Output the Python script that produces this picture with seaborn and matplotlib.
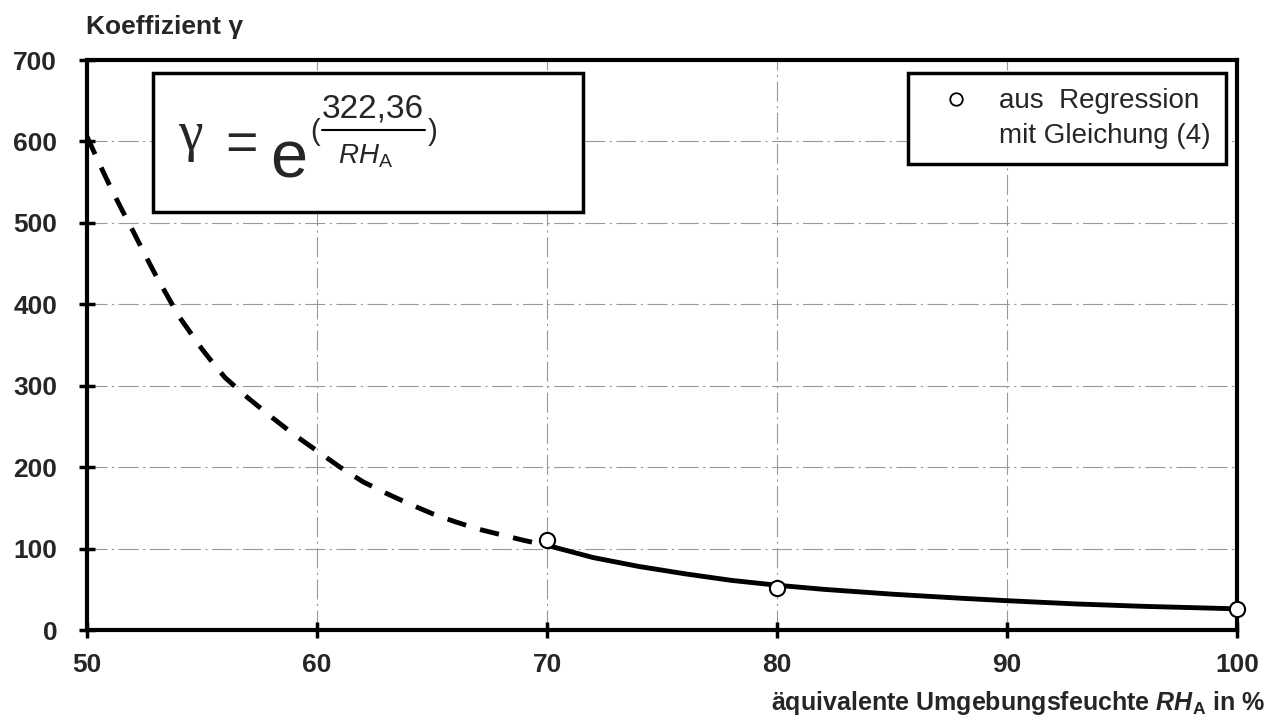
import matplotlib.pyplot as plt
import seaborn as sns
from matplotlib.lines import Line2D
from matplotlib.patches import Rectangle

# values
rh_dashed = [50, 50.5, 51, 51.5, 52, 52.5, 53, 53.5, 54, 54.5, 55, 55.5, 56, 57, 58,
             59, 60, 61, 62, 63, 64, 65, 66, 67, 68, 69, 70]
gamma_dashed = [606, 575, 545, 517, 490, 462, 435, 410, 385, 365, 345, 327, 310, 285,
                262, 240, 220, 200, 182, 168, 155, 143, 133, 124, 117, 110, 104]
rh_solid = [70, 72, 74, 76, 78, 80, 82, 85, 88, 90, 93, 96, 100]
gamma_solid = [104, 89, 78, 69, 61, 55, 50, 44, 39, 36, 32, 29, 26]
rh_points = [70, 80, 100]
gamma_points = [111, 52, 26]
x_ticks = [50, 60, 70, 80, 90, 100]
y_ticks = [0, 100, 200, 300, 400, 500, 600, 700]

sns.set_style("white")
plt.rcParams["font.family"] = ["Liberation Sans", "DejaVu Sans"]
plt.rcParams["mathtext.fontset"] = "custom"
plt.rcParams["mathtext.rm"] = "Liberation Sans"
plt.rcParams["mathtext.it"] = "Liberation Sans:italic"
plt.rcParams["mathtext.bf"] = "Liberation Sans:bold"
plt.rcParams["mathtext.bfit"] = "Liberation Sans:italic:bold"

W, H = 1273, 727
fig = plt.figure(figsize=(W / 100, H / 100), dpi=100)
ax = fig.add_axes([87 / W, 1 - 630 / H, 1150 / W, 570 / H])


def fx(px):
    return px / W


def fy(py):
    return 1 - py / H


sns.lineplot(x=rh_dashed, y=gamma_dashed, ax=ax, color="black", lw=3.5)
ax.lines[-1].set_dashes([4, 3])
sns.lineplot(x=rh_solid, y=gamma_solid, ax=ax, color="black", lw=3.5)
sns.scatterplot(x=rh_points, y=gamma_points, ax=ax, s=120, facecolor="white",
                edgecolor="black", linewidth=1.5, zorder=5, clip_on=False)

ax.set_xlim(50, 100)
ax.set_ylim(0, 700)
ax.set_xticks(x_ticks)
ax.set_yticks(y_ticks)
ax.grid(True, color="#999999", lw=0.8, linestyle=(0, (18, 4, 2, 4)))
ax.set_axisbelow(True)
for s in ax.spines.values():
    s.set_visible(True)
    s.set_color("black")
    s.set_linewidth(3)
ax.tick_params(direction="inout", length=11, width=2.5, color="black",
               labelsize=19, bottom=True, left=True)
ax.tick_params(axis="y", pad=16)
ax.tick_params(axis="x", pad=11)
for lab in ax.get_xticklabels() + ax.get_yticklabels():
    lab.set_fontweight("bold")

fig.text(fx(86), fy(27), "Koeffizient γ", fontsize=19, fontweight="bold",
         ha="left", va="center")
fig.text(fx(1265), fy(703),
         r"äquivalente Umgebungsfeuchte $\mathbfit{RH}_\mathbf{A}$ in %",
         fontsize=18, fontweight="bold", ha="right", va="center")

# formula box
ax.add_patch(Rectangle((0.057, 0.733), 0.374, 0.244, transform=ax.transAxes,
                       facecolor="white", edgecolor="black", lw=2.5, zorder=6))
fig.text(fx(190), fy(150), "γ", fontsize=40, family="Liberation Serif",
         ha="center", va="baseline", zorder=7)
fig.text(fx(241), fy(160), "=", fontsize=40, ha="center", va="baseline", zorder=7)
fig.text(fx(289), fy(177), "e", fontsize=48, ha="center", va="baseline", zorder=7)
fig.text(fx(315), fy(140), "(", fontsize=21, ha="center", va="baseline", zorder=7)
fig.text(fx(433), fy(140), ")", fontsize=21, ha="center", va="baseline", zorder=7)
fig.text(fx(373), fy(117), "322,36", fontsize=24, ha="center", va="baseline", zorder=7)
fig.add_artist(Line2D([fx(322), fx(425)], [fy(130), fy(130)], color="black",
                      lw=1.5, zorder=7))
fig.text(fx(366), fy(163), r"$\mathit{RH}_\mathrm{A}$", fontsize=20,
         ha="center", va="baseline", zorder=7)

# legend
handles = [
    Line2D([], [], marker="o", ls="none", mfc="white", mec="black", ms=9, mew=1.3),
    Line2D([], [], ls="none"),
]
leg = ax.legend(handles, ["aus  Regression", "mit Gleichung (4)"],
                loc="upper right", bbox_to_anchor=(0.99, 0.977), fontsize=20,
                frameon=True, fancybox=False, framealpha=1, borderpad=0.55,
                labelspacing=0.3, handlelength=2.3, handletextpad=0.4,
                borderaxespad=0)
leg.get_frame().set_edgecolor("black")
leg.get_frame().set_linewidth(2.5)
leg.set_zorder(8)

fig.savefig("out.png", dpi=100)
